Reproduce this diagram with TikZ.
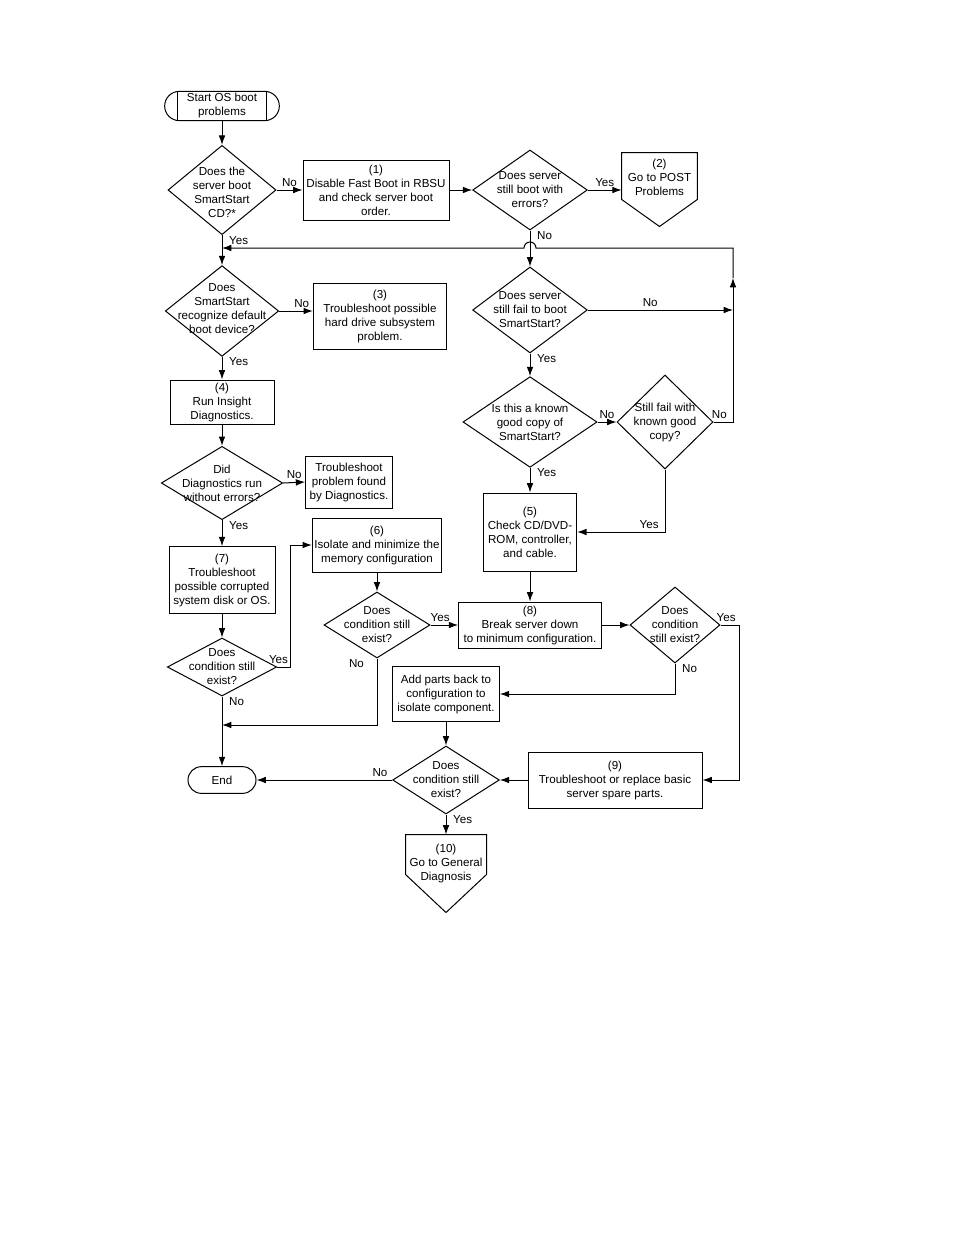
\documentclass[tikz,border=0pt]{standalone}
\usepackage{fontspec}
\setmainfont{Liberation Sans}
\usetikzlibrary{shapes.geometric,arrows.meta,calc}

\tikzset{
  txt/.style={font=\fontsize{8.7}{10.5}\selectfont, align=center},
  procbox/.style={draw, rectangle, txt, inner sep=1pt},
  termbox/.style={draw, rectangle, rounded corners=10pt, txt, inner sep=1pt},
  decision/.style={draw, diamond, inner sep=0pt},
  dtext/.style={txt, inner sep=0pt},
  lbl/.style={font=\fontsize{8.7}{10.5}\selectfont, inner sep=2.5pt},
  vlab/.style={lbl, pos=0, anchor=north west, xshift=2.5pt, yshift=2pt},
  flow/.style={-{Latex[length=7pt,width=5pt]}},
}

\begin{document}
\begin{tikzpicture}[x=0.75pt, y=-0.75pt, line width=0.75pt]
    \useasboundingbox (0,0) rectangle (954,1235);

    % Start and end
    \node[termbox, minimum width=86pt, minimum height=22pt, rounded corners=11pt] (start) at (222,106) {Start OS boot\\problems};
    \draw ([xshift=9.75pt]start.north west) -- ([xshift=9.75pt]start.south west);
    \draw ([xshift=-9.75pt]start.north east) -- ([xshift=-9.75pt]start.south east);
    \node[termbox, minimum width=51pt, minimum height=20pt] (stop) at (222,780) {End};

    % Left column
    \node[decision, minimum width=81pt, minimum height=67pt, label={[dtext, yshift=-2pt]center:Does the\\server boot\\SmartStart\\CD?*}] (d1) at (222,190) {};
    \node[decision, minimum width=85pt, minimum height=68pt, label={[dtext, yshift=2pt]center:Does\\SmartStart\\recognize default\\boot device?}] (dsmart) at (222,311) {};
    \node[procbox, minimum width=78pt, minimum height=33pt] (box4) at (222,402) {(4)\\Run Insight\\Diagnostics.};
    \node[decision, minimum width=91pt, minimum height=55pt, label={[dtext]center:Did\\Diagnostics run\\without errors?}] (ddiag) at (222,483) {};
    \node[procbox, minimum width=79.5pt, minimum height=50pt] (box7) at (222,580) {(7)\\Troubleshoot\\possible corrupted\\system disk or OS.};
    \node[decision, minimum width=82pt, minimum height=43.5pt, label={[dtext]center:Does\\condition still\\exist?}] (d7) at (222,667) {};

    % Middle column
    \node[procbox, minimum width=109.5pt, minimum height=45pt] (box1) at (376,190) {(1)\\Disable Fast Boot in RBSU\\and check server boot\\order.};
    \node[procbox, minimum width=100pt, minimum height=49.5pt] (box3) at (380,316) {(3)\\Troubleshoot possible\\hard drive subsystem\\problem.};
    \node[procbox, minimum width=65pt, minimum height=39pt] (boxdiag) at (349,482) {Troubleshoot\\problem found\\by Diagnostics.};
    \node[procbox, minimum width=97pt, minimum height=40.5pt] (box6) at (377,545) {(6)\\Isolate and minimize the\\memory configuration};
    \node[decision, minimum width=79.5pt, minimum height=49.5pt, label={[dtext]center:Does\\condition still\\exist?}] (d6) at (377,625) {};
    \node[procbox, minimum width=80pt, minimum height=41pt] (boxadd) at (446,694) {Add parts back to\\configuration to\\isolate component.};
    \node[decision, minimum width=80pt, minimum height=51pt, label={[dtext]center:Does\\condition still\\exist?}] (d10) at (446,780) {};
    \node[txt, inner sep=0pt, minimum width=60pt, minimum height=42pt] (gen) at (446,863) {(10)\\Go to General\\Diagnosis};
    \draw (gen.north west) -- (gen.north east) -- ($(gen.north east)+(0,40)$) -- ($(gen.north)+(0,78)$) -- ($(gen.north west)+(0,40)$) -- cycle;

    % Right column
    \node[decision, minimum width=86pt, minimum height=60pt, label={[dtext]center:Does server\\still boot with\\errors?}] (d2) at (530,190) {};
    \node[txt, inner sep=0pt, minimum width=56pt, minimum height=36.75pt] (post) at (659.5,177.5) {(2)\\Go to POST\\Problems};
    \draw (post.north west) -- (post.north east) -- ($(post.north east)+(0,47)$) -- ($(post.north)+(0,74)$) -- ($(post.north west)+(0,47)$) -- cycle;
    \node[decision, minimum width=86pt, minimum height=64.5pt, label={[dtext]center:Does server\\still fail to boot\\SmartStart?}] (d3) at (530,310) {};
    \node[decision, minimum width=100.5pt, minimum height=68pt, label={[dtext]center:Is this a known\\good copy of\\SmartStart?}] (d4) at (530,422) {};
    \node[decision, minimum width=72pt, minimum height=70.5pt, label={[dtext]center:Still fail with\\known good\\copy?}] (d5) at (665,422) {};
    \node[procbox, minimum width=70pt, minimum height=58.5pt] (box5) at (530,532) {(5)\\Check CD/DVD-\\ROM, controller,\\and cable.};
    \node[procbox, minimum width=107pt, minimum height=34.5pt] (box8) at (530,625) {(8)\\Break server down\\to minimum configuration.};
    \node[decision, minimum width=67.5pt, minimum height=57pt, label={[dtext]center:Does\\condition\\still exist?}] (d8) at (675,625) {};
    \node[procbox, minimum width=130.5pt, minimum height=42pt] (box9) at (615,780) {(9)\\Troubleshoot or replace basic\\server spare parts.};

    % Junction points
    \coordinate (rtop) at (733,248);
    \coordinate (rmid) at (733,278);
    \coordinate (ljoin) at (222,248);
    \coordinate (ljoin2) at (222,725);

    % Connectors, left
    \draw[flow] (start) -- (d1);
    \draw[flow] (d1.east) -- node[lbl, above]{No} (box1.west);
    \draw[flow] (d1.south) -- node[vlab]{Yes} (dsmart.north);
    \draw[flow] (dsmart.east) -- node[lbl, above, pos=0.67]{No} (dsmart.east -| box3.west);
    \draw[flow] (dsmart.south) -- node[vlab]{Yes} (box4.north);
    \draw[flow] (box4) -- (ddiag);
    \draw[flow] (ddiag.east) -- node[lbl, above]{No} (boxdiag.west);
    \draw[flow] (ddiag.south) -- node[vlab]{Yes} (box7.north);
    \draw[flow] (box7) -- (d7);
    \draw[flow] (d7.east) -- node[lbl, above, pos=0.1]{Yes} ++(13,0) |- (box6.west);
    \draw[flow] (d7.south) -- node[vlab]{No} (stop.north);

    % Connectors, middle
    \draw[flow] (box1.east) -- (d2.west);
    \draw[flow] (box6) -- (d6);
    \draw[flow] (d6.east) -- node[lbl, above, pos=0.35]{Yes} (box8.west);
    \draw[flow] (d6.south) |- node[lbl, pos=0, anchor=north east, xshift=-7pt, yshift=2pt]{No} (ljoin2);
    \draw[flow] (boxadd) -- (d10);
    \draw[flow] (d10.west) -- node[lbl, above, pos=0.09]{No} (stop.east);
    \draw[flow] (d10.south) -- node[vlab]{Yes} (gen.north);

    % Connectors, right
    \draw[flow] (d2.east) -- node[lbl, above]{Yes} (d2.east -| post.west);
    \draw[flow] (d2.south) -- node[vlab]{No} (d3.north);
    \draw[flow] (d3.east) -- node[lbl, above, pos=0.43]{No} (d3.east -| rtop);
    \draw[flow] (d3.south) -- node[vlab]{Yes} (d4.north);
    \draw[flow] (d4.east) -- node[lbl, above]{No} (d5.west);
    \draw[flow] (d4.south) -- node[vlab]{Yes} (box5.north);
    \draw[flow] (d5.south) |- node[lbl, above, pos=0.59]{Yes} (box5.east);
    \draw[flow] (d5.east) -- node[lbl, above, pos=0.3]{No} (d5.east -| rtop) -- (rmid);
    \draw[flow] (rmid) -- (rtop) -- ($(d2.south |- rtop)+(6,0)$) arc[start angle=0, end angle=180, radius=4.5pt] -- (ljoin);
    \draw[flow] (box5) -- (box8);
    \draw[flow] (box8) -- (d8);
    \draw[flow] (d8.east) -- node[lbl, above, pos=0.3]{Yes} ++(19,0) |- (box9.east);
    \draw[flow] (d8.south) |- node[vlab]{No} (boxadd.east);
    \draw[flow] (box9) -- (d10);
\end{tikzpicture}
\end{document}
